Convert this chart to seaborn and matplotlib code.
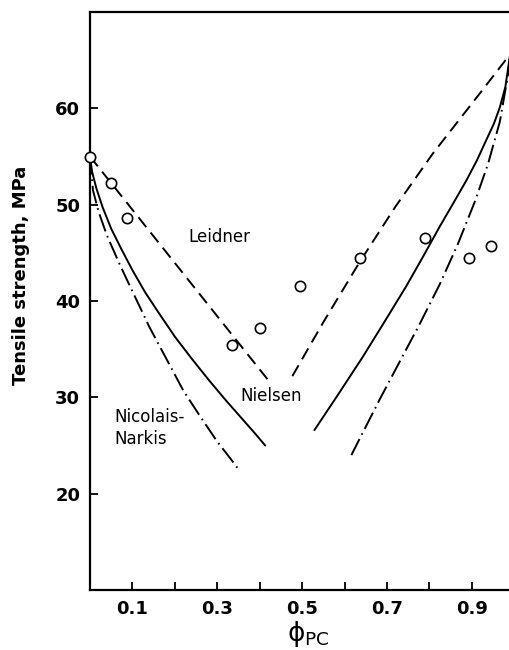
import matplotlib
matplotlib.use("Agg")
import matplotlib.pyplot as plt
import seaborn as sns
import pandas as pd

# ---- data ----
phi_exp = [0.0, 0.05, 0.088, 0.335, 0.40, 0.495, 0.636, 0.79, 0.893, 0.945]
ts_exp = [55.0, 52.2, 48.6, 35.4, 37.2, 41.6, 44.5, 46.5, 44.5, 45.7]

leidner_left_phi = [0.0, 0.427]
leidner_left_ts = [55.0, 31.4]
leidner_right_phi = [0.477, 0.55, 0.635, 0.72, 0.808, 0.918, 0.99]
leidner_right_ts = [32.2, 37.8, 44.0, 49.8, 55.3, 61.5, 65.6]

nielsen_left_phi = [0.0, 0.005, 0.015, 0.03, 0.05, 0.075, 0.10, 0.13, 0.16, 0.20,
                    0.24, 0.28, 0.32, 0.36, 0.39, 0.413]
nielsen_left_ts = [55.0, 53.4, 51.7, 49.7, 47.5, 45.3, 43.2, 40.9, 38.9, 36.3,
                   34.0, 31.8, 29.7, 27.7, 26.2, 25.0]
nielsen_right_phi = [0.529, 0.585, 0.643, 0.695, 0.745, 0.785, 0.824, 0.857, 0.887,
                     0.912, 0.934, 0.952, 0.966, 0.979, 0.99]
nielsen_right_ts = [26.6, 30.3, 34.2, 37.9, 41.5, 44.6, 47.7, 50.2, 52.5, 54.6,
                    56.7, 58.4, 60.1, 62.2, 65.5]

nn_left_phi = [0.0, 0.007, 0.02, 0.04, 0.07, 0.10, 0.14, 0.18, 0.22, 0.26, 0.30,
               0.33, 0.354]
nn_left_ts = [55.0, 51.5, 49.3, 46.8, 43.8, 41.0, 37.3, 34.0, 30.7, 28.0, 25.4,
              23.7, 22.3]
nn_right_phi = [0.616, 0.683, 0.73, 0.777, 0.824, 0.867, 0.907, 0.938, 0.966,
                0.985, 0.99]
nn_right_ts = [24.0, 29.8, 33.7, 37.6, 41.7, 45.9, 50.3, 54.2, 58.6, 63.4, 65.5]

x_major = [0.1, 0.3, 0.5, 0.7, 0.9]
x_minor = [0.2, 0.4, 0.6, 0.8]
y_major = [20, 30, 40, 50, 60]

# ---- style ----
sns.set_theme(style="ticks")
plt.rcParams["font.family"] = ["DejaVu Sans"]
plt.rcParams["mathtext.fontset"] = "dejavusans"
plt.rcParams["lines.scale_dashes"] = False
plt.rcParams["text.color"] = "black"
plt.rcParams["axes.labelcolor"] = "black"
plt.rcParams["xtick.color"] = "black"
plt.rcParams["ytick.color"] = "black"

W, H = 510, 650
fig = plt.figure(figsize=(W / 100, H / 100), dpi=100)
L, R, T, B = 90, 510, 12, 590
ax = fig.add_axes([L / W, (H - B) / H, (R - L) / W, (B - T) / H])

dash = (0, (9, 5))
dashdot = (0, (13, 3.5, 1.2, 3.5))
segments = [
    (leidner_left_phi, leidner_left_ts, dash),
    (leidner_right_phi, leidner_right_ts, dash),
    (nielsen_left_phi, nielsen_left_ts, "-"),
    (nielsen_right_phi, nielsen_right_ts, "-"),
    (nn_left_phi, nn_left_ts, dashdot),
    (nn_right_phi, nn_right_ts, dashdot),
]
for px, py, ls in segments:
    df = pd.DataFrame({"phi": px, "ts": py})
    sns.lineplot(data=df, x="phi", y="ts", ax=ax, color="black", linewidth=1.4,
                 linestyle=ls, sort=False, estimator=None)

sns.scatterplot(x=phi_exp, y=ts_exp, ax=ax, marker="o", s=55, facecolor="white",
                edgecolor="black", linewidth=1.2, zorder=5, clip_on=False)

ax.set_xlim(0, 0.99)
ax.set_ylim(10, 70)
ax.set_xticks(x_major)
ax.set_xticklabels([f"{v:.1f}" for v in x_major])
ax.set_xticks(x_minor, minor=True)
ax.set_yticks(y_major)
ax.set_yticklabels([str(v) for v in y_major])

for s in ["top", "left", "bottom"]:
    ax.spines[s].set_linewidth(1.6)
    ax.spines[s].set_color("black")
ax.spines["right"].set_visible(False)

ax.tick_params(axis="both", which="both", direction="in", length=6, width=1.3,
               color="black", labelcolor="black", labelsize=13, pad=7)
ax.tick_params(axis="y", which="both", right=False)
ax.tick_params(axis="x", which="both", top=False)
for lab in ax.get_xticklabels() + ax.get_yticklabels():
    lab.set_fontweight("bold")

ax.set_ylabel("Tensile strength, MPa", fontsize=13, fontweight="bold", color="black")
ax.yaxis.set_label_coords(-0.143, 0.545)
ax.set_xlabel(r"$\mathrm{ϕ}_{\mathrm{PC}}$", fontsize=19, color="black")
ax.xaxis.set_label_coords(0.519, -0.05)

ax.text(0.305, 46.6, "Leidner", fontsize=12, ha="center", va="center", color="black")
ax.text(0.427, 30.1, "Nielsen", fontsize=12, ha="center", va="center", color="black")
ax.text(0.058, 26.8, "Nicolais-\nNarkis", fontsize=12, ha="left", va="center",
        linespacing=1.25, color="black")

fig.savefig("out.png", dpi=100)
